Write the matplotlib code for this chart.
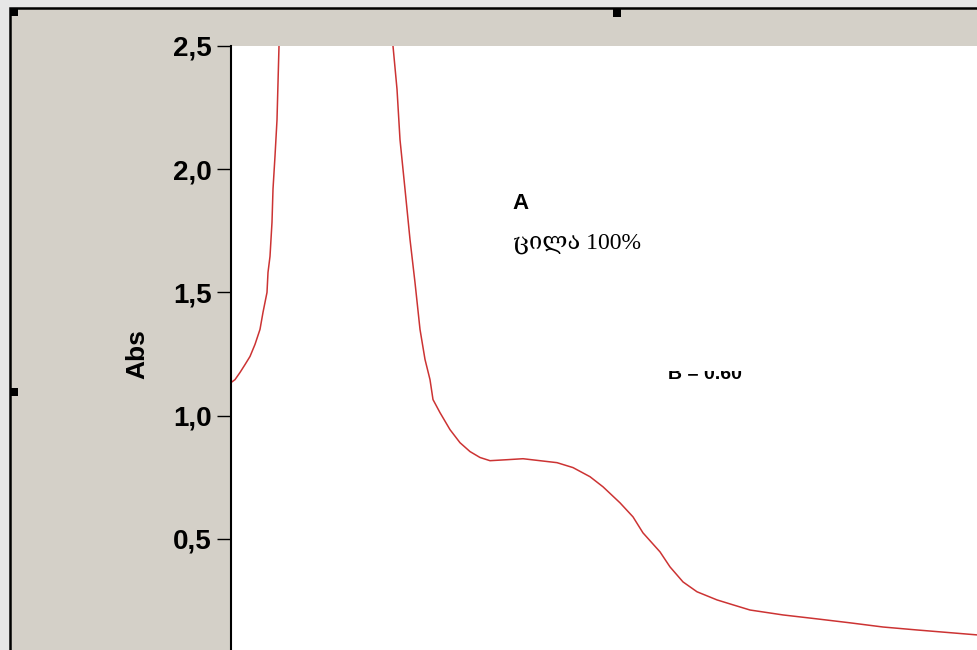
import numpy as np
import matplotlib.pyplot as plt
from matplotlib.patches import Rectangle

# absorbance spectrum (wavelength nm, Abs)
wavelength = [200, 202, 204.5, 207, 209.5, 212, 214.5, 216, 218, 218.5, 219.5, 220.5,
              221, 222, 223, 224,
              252.5,
              281, 283, 284.5, 287, 289.5, 292, 294.5, 297, 299.5, 301, 304.5,
              309.5, 314.5, 319.5, 324.5, 329.5, 338, 346, 354.5, 363, 371,
              379.5, 386, 394.5, 401, 406, 414.5, 419.5, 426, 433, 443, 451,
              459.5, 476, 493, 509.5, 526, 543, 573, 597.5]
absorbance = [1.134, 1.146, 1.175, 1.207, 1.24, 1.289, 1.35, 1.419, 1.5, 1.581, 1.646, 1.785,
              1.919, 2.053, 2.2, 2.5,
              3.4,
              2.5, 2.325, 2.12, 1.919, 1.715, 1.54, 1.35, 1.228, 1.146, 1.065, 1.012,
              0.943, 0.89, 0.854, 0.83, 0.817, 0.821, 0.825, 0.817, 0.809, 0.789,
              0.752, 0.711, 0.646, 0.589, 0.524, 0.447, 0.386, 0.325, 0.285, 0.252, 0.232,
              0.211, 0.191, 0.175, 0.159, 0.142, 0.130, 0.110, 0.097]

yticks = [0.0, 0.5, 1.0, 1.5, 2.0, 2.5]
ytick_labels = ['0,0', '0,5', '1,0', '1,5', '2,0', '2,5']

W, H = 977, 650
fig = plt.figure(figsize=(W / 100, H / 100), dpi=100, facecolor='#e6e6e6')

# grey window frame with black border
fig.patches.append(Rectangle((10 / W, -0.1), 1, 1.1 - 8 / H, transform=fig.transFigure,
                             facecolor='#d4d0c8', edgecolor='black', linewidth=1.8,
                             zorder=-1))
# selection handles
for px, py in [(10, 8), (613, 9), (10, 388)]:
    fig.patches.append(Rectangle((px / W, 1 - (py + 8) / H), 8 / W, 8 / H,
                                 transform=fig.transFigure, facecolor='black',
                                 edgecolor='none', zorder=5))

ax = fig.add_axes([231 / W, -12 / H, 795 / W, 616 / H])
ax.set_facecolor('white')
ax.plot(wavelength, absorbance, color='#cc3333', linewidth=1.1)
ax.set_xlim(200, 597.5)
ax.set_ylim(0, 2.5)

ax.set_yticks(yticks)
ax.set_yticklabels(ytick_labels, fontfamily='Liberation Sans', fontweight='bold', fontsize=20)
ax.tick_params(axis='y', direction='out', length=10, width=1, pad=4)
ax.tick_params(axis='x', bottom=False, labelbottom=False)
ax.set_ylabel('Abs', fontfamily='Liberation Sans', fontweight='bold', fontsize=19, labelpad=17)
for side in ['top', 'right', 'bottom']:
    ax.spines[side].set_visible(False)
ax.spines['left'].set_linewidth(1.5)

ax.text(340.5, 1.86, 'A', fontfamily='Liberation Sans', fontweight='bold', fontsize=16,
        va='center', ha='left')
ax.text(341, 1.70, 'ცილა 100%', family=['Liberation Serif', 'DejaVu Serif'], fontsize=17,
        va='center', ha='left')

# partly hidden label under the white box
ax.text(418.5, 1.15, 'B = 0.60', fontfamily='Liberation Sans', fontweight='bold', fontsize=14,
        va='baseline', ha='left')
ax.add_patch(Rectangle((410, 1.18), 70, 0.2, facecolor='white', edgecolor='none', zorder=4))

fig.savefig('out.png', dpi=100, facecolor=fig.get_facecolor())
